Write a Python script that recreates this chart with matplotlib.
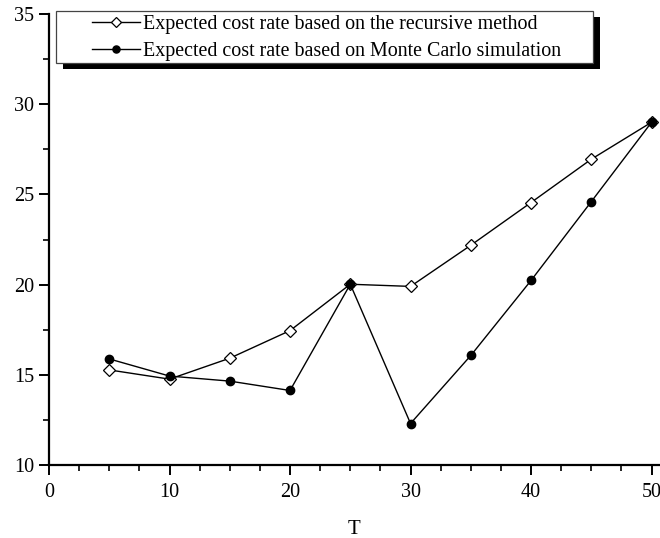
import matplotlib
matplotlib.use("Agg")
import matplotlib.pyplot as plt
from matplotlib.patches import Rectangle
from matplotlib.ticker import MultipleLocator

plt.rcParams['font.family'] = ['Liberation Serif', 'DejaVu Serif']

# dane
T = [5, 10, 15, 20, 25, 30, 35, 40, 45, 50]
recursive = [15.27, 14.76, 15.92, 17.45, 20.02, 19.9, 22.18, 24.55, 26.95, 29.0]
monte_carlo = [15.88, 14.93, 14.65, 14.13, 20.02, 12.3, 16.07, 20.23, 24.6, 29.0]

W, H = 660, 538
fig = plt.figure(figsize=(W / 100, H / 100), dpi=100)
ax = fig.add_axes([49 / W, 1 - 465 / H, 1 - 49 / W, (465 - 14) / H])

ax.plot(T, recursive, color='black', lw=1.0, marker='D', ms=6.5,
        mfc='white', mec='black', mew=0.9,
        label='Expected cost rate based on the recursive method')
ax.plot(T, monte_carlo, color='black', lw=1.0, marker='o', ms=6,
        mfc='black', mec='black',
        label='Expected cost rate based on Monte Carlo simulation')

ax.set_xlim(0, 50.7)
ax.set_ylim(10, 35)
ax.xaxis.set_major_locator(MultipleLocator(10))
ax.xaxis.set_minor_locator(MultipleLocator(2.5))
ax.yaxis.set_major_locator(MultipleLocator(5))
ax.yaxis.set_minor_locator(MultipleLocator(2.5))

ax.spines['top'].set_visible(False)
ax.spines['right'].set_visible(False)
ax.spines['left'].set_linewidth(1.6)
ax.spines['bottom'].set_linewidth(1.6)
ax.tick_params(which='major', direction='out', length=7, width=1.4, labelsize=14.5)
ax.tick_params(which='minor', direction='out', length=4.3, width=1.2)
ax.tick_params(axis='x', pad=6)

ax.set_xlabel('T', fontsize=15, labelpad=13)

# ramka legendy z czarnym cieniem
def px_rect(x0, y0, x1, y1, **kw):
    return Rectangle((x0 / W, 1 - y1 / H), (x1 - x0) / W, (y1 - y0) / H,
                     transform=fig.transFigure, **kw)

fig.patches.append(px_rect(63, 17, 600, 69, facecolor='black', edgecolor='none', zorder=5))
fig.patches.append(px_rect(56, 11, 593, 63, facecolor='white', edgecolor='#444444',
                           lw=0.9, zorder=6))

leg = fig.legend(*ax.get_legend_handles_labels(), loc='upper left',
                 bbox_to_anchor=(92 / W, 1 - 15 / H), fontsize=14.4,
                 frameon=False, handlelength=2.4, handletextpad=0.15,
                 borderpad=0, borderaxespad=0, labelspacing=0.38,
                 markerscale=0.85)
leg.set_zorder(7)

fig.savefig('out.png', dpi=100)
